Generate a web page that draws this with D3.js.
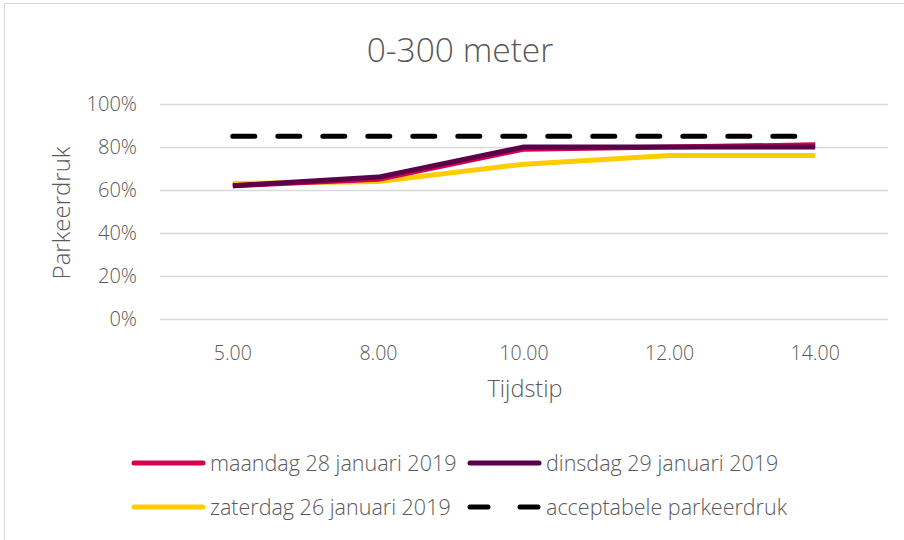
<!DOCTYPE html>
<html>
<head>
<meta charset="utf-8">
<script src="https://cdn.jsdelivr.net/npm/d3@7"></script>
<style>
  body { margin: 0; background: #fff; }
  text { font-family: "Open Sans", sans-serif; font-weight: 300; fill: #595959; }
</style>
</head>
<body>
<div id="chart"></div>
<script>
// tijdstippen op de x-as
const categories = ['5.00', '8.00', '10.00', '12.00', '14.00'];
const maandag = [0.62, 0.65, 0.79, 0.80, 0.81];
const dinsdag = [0.62, 0.66, 0.80, 0.80, 0.80];
const zaterdag = [0.63, 0.64, 0.72, 0.76, 0.76];
const acceptabel = [0.85, 0.85, 0.85, 0.85, 0.85];
const yTicks = [0, 0.2, 0.4, 0.6, 0.8, 1];

const width = 904;
const height = 540;
const margin = {top: 104, bottom: 221, left: 160, right: 16};

const series = [
  {name: 'maandag 28 januari 2019', values: maandag, color: '#d5004f', dash: null},
  {name: 'dinsdag 29 januari 2019', values: dinsdag, color: '#5c0049', dash: null},
  {name: 'zaterdag 26 januari 2019', values: zaterdag, color: '#ffcc00', dash: null},
  {name: 'acceptabele parkeerdruk', values: acceptabel, color: '#000', dash: '22,23'}
];

const svg = d3.select('#chart')
  .append('svg')
  .attr('width', width)
  .attr('height', height)
  .attr('viewBox', [0, 0, width, height]);

// kader
svg.append('rect')
  .attr('x', 4.5).attr('y', 3.5)
  .attr('width', width - 3).attr('height', height - 1)
  .attr('fill', 'none')
  .attr('stroke', '#d9d9d9');

const x = d3.scaleBand()
  .domain(categories)
  .range([margin.left, width - margin.right]);

const y = d3.scaleLinear()
  .domain([0, 1])
  .range([height - margin.bottom, margin.top]);

// rasterlijnen
svg.append('g')
  .selectAll('line')
  .data(yTicks)
  .join('line')
    .attr('x1', margin.left)
    .attr('x2', width - margin.right)
    .attr('y1', d => Math.round(y(d)) + 0.5)
    .attr('y2', d => Math.round(y(d)) + 0.5)
    .attr('stroke', '#d9d9d9')
    .attr('stroke-width', 1.5);

// y-as labels
svg.append('g')
  .selectAll('text')
  .data(yTicks)
  .join('text')
    .attr('x', margin.left - 23)
    .attr('y', d => y(d))
    .attr('dy', '0.35em')
    .attr('text-anchor', 'end')
    .attr('font-size', 20)
    .text(d3.format('.0%'));

// x-as labels
svg.append('g')
  .selectAll('text')
  .data(categories)
  .join('text')
    .attr('x', d => x(d) + x.bandwidth() / 2)
    .attr('y', 353)
    .attr('dy', '0.35em')
    .attr('text-anchor', 'middle')
    .attr('font-size', 19.5)
    .text(d => d);

const line = d3.line()
  .x((d, i) => x(categories[i]) + x.bandwidth() / 2)
  .y(d => y(d));

// draw dashed first then coloured lines in order
const drawOrder = [series[3], series[2], series[0], series[1]];
svg.append('g')
  .selectAll('path')
  .data(drawOrder)
  .join('path')
    .attr('d', d => line(d.values))
    .attr('fill', 'none')
    .attr('stroke', d => d.color)
    .attr('stroke-width', 5)
    .attr('stroke-dasharray', d => d.dash)
    .attr('stroke-linejoin', 'round')
    .attr('stroke-linecap', d => d.dash ? 'round' : 'butt');

// titel
svg.append('text')
  .attr('x', 460)
  .attr('y', 50)
  .attr('dy', '0.35em')
  .attr('text-anchor', 'middle')
  .attr('font-size', 33.5)
  .text('0-300 meter');

svg.append('text')
  .attr('x', 525)
  .attr('y', 389)
  .attr('dy', '0.35em')
  .attr('text-anchor', 'middle')
  .attr('font-size', 23.5)
  .text('Tijdstip');

svg.append('text')
  .attr('transform', 'translate(62,213) rotate(-90)')
  .attr('dy', '0.35em')
  .attr('text-anchor', 'middle')
  .attr('font-size', 24)
  .text('Parkeerdruk');

// legenda
const legendPos = [[132, 463], [468, 463], [132, 507], [468, 507]];
const legend = svg.append('g')
  .selectAll('g')
  .data(series)
  .join('g')
    .attr('transform', (d, i) => `translate(${legendPos[i][0]},${legendPos[i][1]})`);

legend.append('line')
  .attr('x1', 2).attr('x2', 71)
  .attr('stroke', d => d.color)
  .attr('stroke-width', 5)
  .attr('stroke-linecap', 'round')
  .attr('stroke-dasharray', d => d.dash ? '18,32' : null);

legend.append('text')
  .attr('x', 78)
  .attr('dy', '0.35em')
  .attr('font-size', 21.5)
  .text(d => d.name);
</script>
</body>
</html>
